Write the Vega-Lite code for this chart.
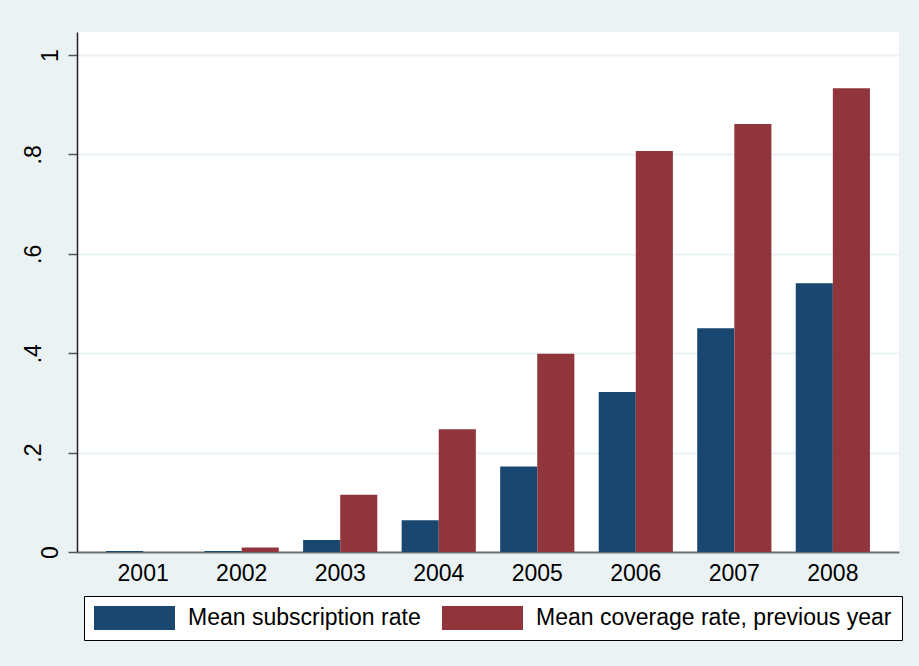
{
  "$schema": "https://vega.github.io/schema/vega-lite/v6.json",
  "width": 822,
  "height": 520,
  "autosize": {"type": "none"},
  "padding": {"left": 77, "top": 32, "right": 20, "bottom": 114},
  "background": "#EAF2F3",
  "config": {"view": {"fill": "white", "stroke": null}, "font": "Liberation Sans"},
  "data": {
    "values": [
      {"year": "2001", "series": "Mean subscription rate", "value": 0.002},
      {"year": "2001", "series": "Mean coverage rate, previous year", "value": 0.0},
      {"year": "2002", "series": "Mean subscription rate", "value": 0.002},
      {"year": "2002", "series": "Mean coverage rate, previous year", "value": 0.009},
      {"year": "2003", "series": "Mean subscription rate", "value": 0.024},
      {"year": "2003", "series": "Mean coverage rate, previous year", "value": 0.115},
      {"year": "2004", "series": "Mean subscription rate", "value": 0.064},
      {"year": "2004", "series": "Mean coverage rate, previous year", "value": 0.247},
      {"year": "2005", "series": "Mean subscription rate", "value": 0.172},
      {"year": "2005", "series": "Mean coverage rate, previous year", "value": 0.399},
      {"year": "2006", "series": "Mean subscription rate", "value": 0.322},
      {"year": "2006", "series": "Mean coverage rate, previous year", "value": 0.807},
      {"year": "2007", "series": "Mean subscription rate", "value": 0.45},
      {"year": "2007", "series": "Mean coverage rate, previous year", "value": 0.861},
      {"year": "2008", "series": "Mean subscription rate", "value": 0.541},
      {"year": "2008", "series": "Mean coverage rate, previous year", "value": 0.933}
    ]
  },
  "mark": {"type": "bar"},
  "encoding": {
    "x": {
      "field": "year",
      "type": "nominal",
      "scale": {"paddingInner": 0.247, "paddingOuter": 0.295},
      "axis": {
        "title": null,
        "labelAngle": 0,
        "ticks": false,
        "grid": false,
        "domainColor": "#707070",
        "domainWidth": 2,
        "labelFontSize": 23,
        "labelPadding": 10,
        "labelColor": "black"
      }
    },
    "xOffset": {
      "field": "series",
      "type": "nominal",
      "sort": ["Mean subscription rate", "Mean coverage rate, previous year"]
    },
    "y": {
      "field": "value",
      "type": "quantitative",
      "scale": {"domain": [0, 1.0463], "nice": false},
      "axis": {
        "title": null,
        "values": [0, 0.2, 0.4, 0.6, 0.8, 1],
        "labelExpr": "datum.value == 0 ? '0' : (datum.value == 1 ? '1' : replace(format(datum.value, '.1f'), '0.', '.'))",
        "labelAngle": -90,
        "labelAlign": "center",
        "labelBaseline": "alphabetic",
        "labelPadding": {"condition": {"test": "datum.value == 0 || datum.value == 1", "value": 11}, "value": 28},
        "labelFontSize": 23,
        "labelColor": "black",
        "domainColor": "#222222",
        "domainWidth": 1.5,
        "tickColor": "#555555",
        "tickSize": 9,
        "tickWidth": 1.5,
        "grid": true,
        "gridColor": "#EAF2F3",
        "gridWidth": 2
      }
    },
    "color": {
      "field": "series",
      "type": "nominal",
      "scale": {
        "domain": ["Mean subscription rate", "Mean coverage rate, previous year"],
        "range": ["#1A476F", "#90353B"]
      },
      "legend": {
        "orient": "none",
        "legendX": 7,
        "legendY": 564,
        "direction": "horizontal",
        "title": null,
        "symbolType": "M-1,-1H5.75V1H-1Z",
        "symbolSize": 576,
        "symbolStrokeWidth": 0,
        "symbolOpacity": 1,
        "labelFontSize": 23,
        "labelOffset": 70,
        "labelLimit": 600,
        "labelColor": "black",
        "columnPadding": 21,
        "padding": 10,
        "strokeColor": "black",
        "fillColor": "white"
      }
    }
  }
}
